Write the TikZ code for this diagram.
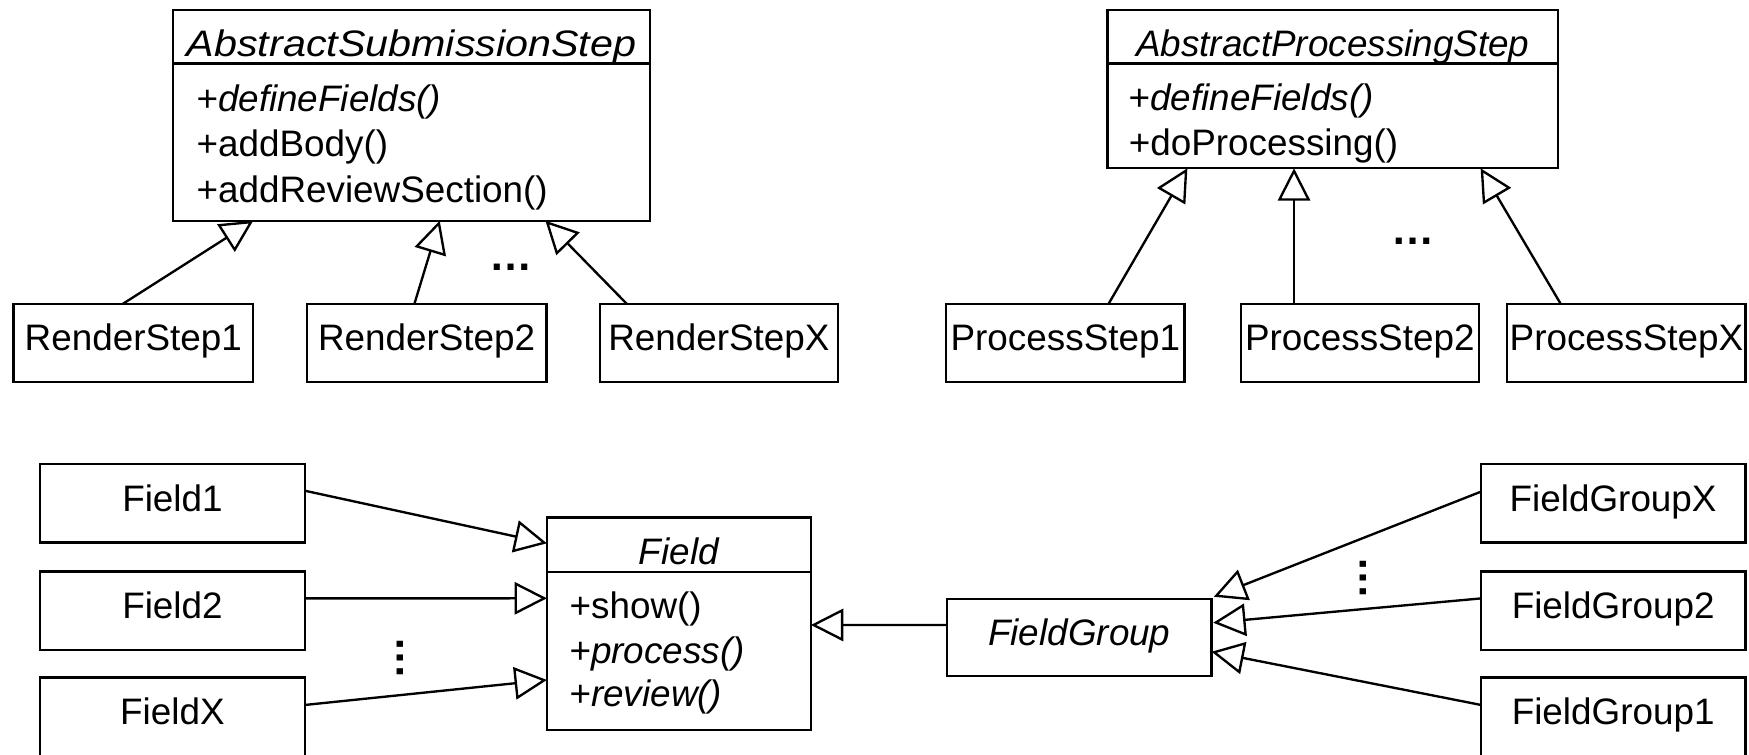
\documentclass[tikz,border=0pt]{standalone}
\usepackage{fontspec}
\setmainfont{Liberation Sans}
\usetikzlibrary{arrows.meta,calc}
\begin{document}
\begin{tikzpicture}[x=0.1mm,y=-0.1mm,
  lw/.style={line width=0.6pt},
  box/.style={draw, lw, anchor=north west, inner sep=0pt, outer sep=0pt,
    font=\fontsize{9.4pt}{11pt}\selectfont, text height=6.8pt, text depth=2.8pt},
  head/.style={box, font=\fontsize{9.4pt}{11pt}\selectfont\itshape, text height=10.1pt, text depth=0pt},
  meth/.style={anchor=base west, inner sep=0pt, font=\fontsize{9.4pt}{11pt}\selectfont},
  dotz/.style={inner sep=0pt, font=\fontsize{11pt}{12pt}\selectfont\bfseries},
  inh/.style={lw, -{Triangle[length=2.9mm, width=2.9mm, fill=white]}},
]
\useasboundingbox (0,0) rectangle (1568,676);
\clip (0,0) rectangle (1568,676);

% ---------- top left ----------
\node[head, minimum width=42.8mm, minimum height=4.78mm] (assh) at (155,9) {\scalebox{1.12}[1]{AbstractSubmissionStep}};
\node[box, minimum width=42.8mm, minimum height=14.11mm] (assb) at (155,56.8) {};
\node[meth] (assm1) at (175.5,100) {\itshape +defineFields()};
\node[meth] (assm2) at (175.5,140.5) {+addBody()};
\node[meth] (assm3) at (175.5,182) {+addReviewSection()};

\node[box, minimum width=21.5mm, minimum height=7mm] (rs1) at (12,272.5) {RenderStep1};
\node[box, minimum width=21.5mm, minimum height=7mm] (rs2) at (275,272.5) {RenderStep2};
\node[box, minimum width=21.3mm, minimum height=7mm] (rsx) at (538,272.5) {RenderStepX};
\node[dotz] (rdots) at (458,240) {…};

\draw[inh] ($(rs1.north west)+(98,0)$) -- ($(assb.south west)+(72,0)$);
\draw[inh] ($(rs2.north west)+(96.5,0)$) -- ($(assb.south west)+(239.2,0)$);
\draw[inh] ($(rsx.north west)+(24,0)$) -- ($(assb.south west)+(334,0)$);

% ---------- top right ----------
\node[head, minimum width=40.42mm, minimum height=4.78mm] (apsh) at (992.8,9) {AbstractProcessingStep};
\node[box, minimum width=40.42mm, minimum height=9.41mm] (apsb) at (992.8,56.8) {};
\node[meth] (apsm1) at (1011.3,99) {\itshape +defineFields()};
\node[meth] (apsm2) at (1011.3,139.5) {+doProcessing()};

\node[box, minimum width=21.36mm, minimum height=7mm] (ps1) at (848.3,272.5) {ProcessStep1};
\node[box, minimum width=21.36mm, minimum height=7mm] (ps2) at (1112.3,272.5) {ProcessStep2};
\node[box, minimum width=21.36mm, minimum height=7mm] (psx) at (1351.3,272.5) {ProcessStepX};
\node[dotz] (pdots) at (1266.4,216.7) {…};

\draw[inh] ($(ps1.north west)+(145.5,0)$) -- ($(apsb.south west)+(71.7,0)$);
\draw[inh] ($(ps2.north west)+(47.8,0)$) -- ($(apsb.south west)+(167.3,0)$);
\draw[inh] ($(psx.north west)+(47.9,0)$) -- ($(apsb.south west)+(334.6,0)$);

% ---------- bottom ----------
\node[head, minimum width=23.67mm, minimum height=4.9mm] (fh) at (490.3,464.1) {Field};
\node[box, minimum width=23.67mm, minimum height=14.14mm] (fb) at (490.3,513.1) {};
\node[meth] (fm1) at (510,554.4) {+show()};
\node[meth] (fm2) at (510,594.7) {\itshape +process()};
\node[meth] (fm3) at (510,633.6) {\itshape +review()};

\node[box, minimum width=23.78mm, minimum height=7.05mm] (f1) at (35.7,416) {Field1};
\node[box, minimum width=23.78mm, minimum height=7.05mm] (f2) at (35.7,512.5) {Field2};
\node[box, minimum width=23.78mm, minimum height=7.05mm] (fx) at (35.7,607.5) {FieldX};
\node[dotz, rotate=90] (fdots) at (359,590) {…};

\draw[inh] ($(f1.north east)+(0,24)$) -- ($(fh.north west)+(0,23)$);
\draw[inh] ($(f2.north east)+(0,24)$) -- ($(fb.north west)+(0,23.3)$);
\draw[inh] ($(fx.north east)+(0,24.5)$) -- ($(fb.north west)+(0,96.5)$);

\node[box, font=\fontsize{9.4pt}{11pt}\selectfont\itshape, minimum width=23.71mm, minimum height=6.91mm] (fg) at (849.1,537) {FieldGroup};
\draw[inh] ($(fg.north west)+(0,23.3)$) -- ($(fb.north east)+(0,47.2)$);

\node[box, minimum width=23.7mm, minimum height=7.05mm] (fgx) at (1327.7,416) {FieldGroupX};
\node[box, minimum width=23.7mm, minimum height=7.05mm] (fg2) at (1327.7,512.5) {FieldGroup2};
\node[box, minimum width=23.7mm, minimum height=7.05mm] (fg1) at (1327.7,607.5) {FieldGroup1};
\node[dotz, rotate=90] (gdots) at (1221.9,518) {…};

\draw[inh] ($(fgx.north west)+(0,24.8)$) -- ($(fg.north east)+(2,-2)$);
\draw[inh] ($(fg2.north west)+(0,24)$) -- ($(fg.north east)+(1.5,21.3)$);
\draw[inh] ($(fg1.north west)+(0,24.5)$) -- ($(fg.north east)+(0,47.3)$);
\end{tikzpicture}
\end{document}
